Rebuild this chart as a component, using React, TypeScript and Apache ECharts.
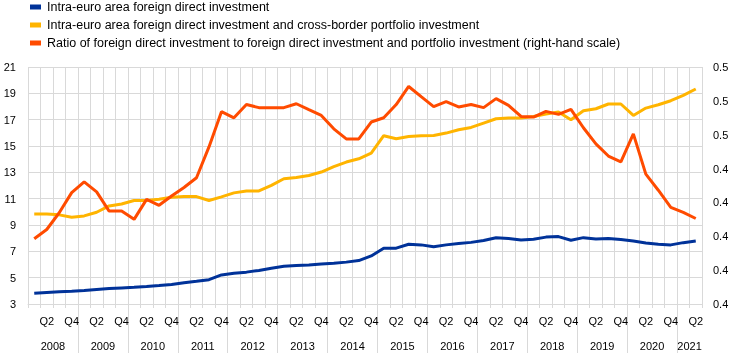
import React, { useEffect, useRef } from "react";
import * as echarts from "echarts";

const YEARS = [2008, 2009, 2010, 2011, 2012, 2013, 2014, 2015, 2016, 2017, 2018, 2019, 2020, 2021];
const QUARTERS = ["Q1", "Q2", "Q3", "Q4"];
const LAST_YEAR_QUARTERS = 2;

const CATEGORIES: string[] = [];
YEARS.forEach((y, yi) => {
  const n = yi === YEARS.length - 1 ? LAST_YEAR_QUARTERS : 4;
  for (let q = 0; q < n; q++) CATEGORIES.push(`${y} ${QUARTERS[q]}`);
});

const SERIES_NAMES = [
  "Intra-euro area foreign direct investment",
  "Intra-euro area foreign direct investment and cross-border portfolio investment",
  "Ratio of foreign direct investment to foreign direct investment and portfolio investment (right-hand scale)",
];

const FDI = [
  3.82, 3.88, 3.93, 3.97, 4.02, 4.1, 4.17, 4.22, 4.27, 4.33, 4.4, 4.48, 4.62, 4.72, 4.85, 5.21,
  5.33, 5.42, 5.55, 5.72, 5.86, 5.93, 5.96, 6.03, 6.1, 6.18, 6.3, 6.65, 7.24, 7.24, 7.54, 7.49,
  7.35, 7.49, 7.59, 7.68, 7.82, 8.03, 7.97, 7.86, 7.92, 8.08, 8.12, 7.84, 8.04, 7.94, 7.97, 7.89,
  7.79, 7.64, 7.54, 7.49, 7.66, 7.79,
];

const FDI_PORTFOLIO = [
  9.84, 9.84, 9.77, 9.59, 9.69, 9.97, 10.45, 10.6, 10.86, 10.86, 10.96, 11.11, 11.16, 11.16, 10.86, 11.14,
  11.44, 11.59, 11.59, 12.01, 12.51, 12.6, 12.76, 13.02, 13.44, 13.78, 14.03, 14.46, 15.78, 15.55, 15.72, 15.78,
  15.8, 15.98, 16.23, 16.41, 16.74, 17.07, 17.12, 17.12, 17.24, 17.43, 17.58, 16.99, 17.68, 17.83, 18.19, 18.19,
  17.32, 17.88, 18.13, 18.44, 18.84, 19.33,
];

const RATIO = [
  0.4385, 0.444, 0.4539, 0.4658, 0.4721, 0.4662, 0.4549, 0.4549, 0.45, 0.4618, 0.4583, 0.4638, 0.4688, 0.4746, 0.4928, 0.5136,
  0.51, 0.5178, 0.516, 0.516, 0.516, 0.5183, 0.5148, 0.5114, 0.5035, 0.4975, 0.4975, 0.5075, 0.51, 0.5178, 0.5285, 0.5225,
  0.5166, 0.5195, 0.5164, 0.5178, 0.516, 0.5213, 0.5173, 0.5108, 0.5104, 0.5138, 0.512, 0.515, 0.5041, 0.4946, 0.4874, 0.4839,
  0.5005, 0.4767, 0.4672, 0.4571, 0.4541, 0.4505,
];

const COLORS = ["#003299", "#FFB400", "#FF4B00"];
const FONT = "Liberation Sans, Arial, sans-serif";
const GRID_COLOR = "#d9d9d9";

export default function App() {
  const ref = useRef<HTMLDivElement>(null);
  useEffect(() => {
    if (!ref.current) return;
    const chart = echarts.init(ref.current, null, { renderer: "svg" });
    const n = CATEGORIES.length;
    const yearLabelValues: number[] = [];
    const yearSepValues: number[] = [];
    YEARS.forEach((y, yi) => {
      const start = yi * 4;
      const cnt = yi === YEARS.length - 1 ? LAST_YEAR_QUARTERS : 4;
      yearLabelValues.push(start + cnt / 2);
      if (yi > 0) yearSepValues.push(start);
    });
    chart.setOption({
      animation: false,
      color: COLORS,
      textStyle: { fontFamily: FONT },
      legend: {
        orient: "vertical",
        left: 30,
        top: 0,
        padding: 0,
        itemWidth: 11,
        itemHeight: 5,
        itemGap: 4,
        icon: "rect",
        textStyle: { fontFamily: FONT, fontSize: 12.5, color: "#000", lineHeight: 14, padding: [0, 0, 0, 1] },
        data: SERIES_NAMES,
      },
      grid: { left: 28, right: 42, top: 67, bottom: 49, containLabel: false },
      xAxis: [
        {
          type: "category",
          data: CATEGORIES,
          boundaryGap: true,
          axisLine: { show: true, lineStyle: { color: GRID_COLOR } },
          axisTick: { show: true, interval: 0, length: 4, lineStyle: { color: GRID_COLOR } },
          axisLabel: {
            interval: 0,
            margin: 11,
            fontSize: 11,
            color: "#000",
            fontFamily: FONT,
            formatter: (v: string) => {
              const q = v.split(" ")[1];
              return q === "Q2" || q === "Q4" ? q : "";
            },
          },
          splitLine: { show: true, interval: 0, lineStyle: { color: GRID_COLOR } },
        },
        {
          type: "value",
          position: "bottom",
          offset: 0,
          min: 0,
          max: n,
          axisLine: { show: false },
          splitLine: { show: false },
          axisTick: {
            show: true,
            customValues: yearSepValues,
            length: 49,
            lineStyle: { color: GRID_COLOR },
          },
          axisLabel: {
            customValues: yearLabelValues,
            margin: 36,
            fontSize: 11,
            color: "#000",
            fontFamily: FONT,
            formatter: (v: number) => String(YEARS[Math.floor(v / 4)]),
          },
        },
      ],
      yAxis: [
        {
          type: "value",
          min: 3,
          max: 21,
          interval: 2,
          axisLine: { show: false },
          axisTick: { show: false },
          axisLabel: { margin: 12, fontSize: 11, color: "#000", fontFamily: FONT },
          splitLine: { show: true, lineStyle: { color: GRID_COLOR } },
        },
        {
          type: "value",
          min: 0.4,
          max: 0.54,
          interval: 0.02,
          position: "right",
          axisLine: { show: false },
          axisTick: { show: false },
          splitLine: { show: false },
          axisLabel: {
            margin: 11,
            fontSize: 11,
            color: "#000",
            fontFamily: FONT,
            formatter: (v: number) => (Math.floor(v * 10 + 1e-6) / 10).toFixed(1),
          },
        },
      ],
      series: [
        {
          name: SERIES_NAMES[0],
          type: "line",
          data: FDI,
          showSymbol: false,
          symbol: "none",
          lineStyle: { width: 3, color: COLORS[0] },
        },
        {
          name: SERIES_NAMES[1],
          type: "line",
          data: FDI_PORTFOLIO,
          showSymbol: false,
          symbol: "none",
          lineStyle: { width: 3, color: COLORS[1] },
        },
        {
          name: SERIES_NAMES[2],
          type: "line",
          yAxisIndex: 1,
          data: RATIO,
          showSymbol: false,
          symbol: "none",
          lineStyle: { width: 3, color: COLORS[2] },
        },
      ],
    });
    return () => chart.dispose();
  }, []);
  return <div ref={ref} style={{ width: 744, height: 353, position: "fixed", left: 0, top: 0 }} />;
}
